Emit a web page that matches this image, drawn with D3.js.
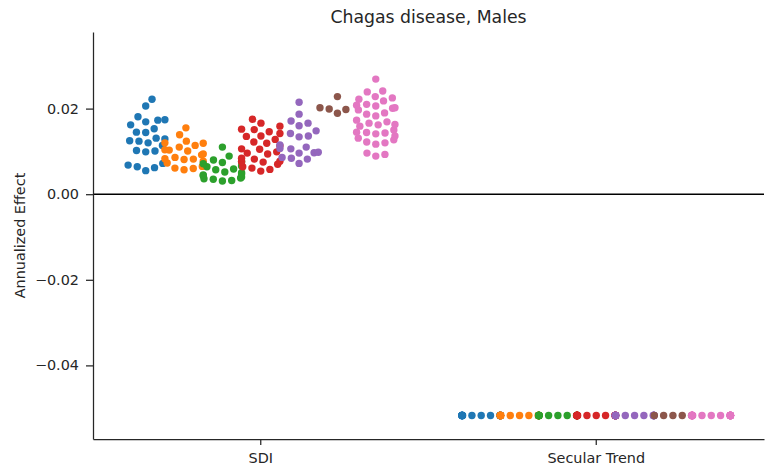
<!DOCTYPE html>
<html>
<head>
<meta charset="utf-8">
<script src="https://cdn.jsdelivr.net/npm/d3@7"></script>
<style>
  body { margin: 0; background: #fff; }
  text { font-family: "DejaVu Sans", sans-serif; fill: #262626; }
</style>
</head>
<body>
<div id="chart"></div>
<script>
const width = 765;
const height = 475;

// categories on the x axis
const categories = ["SDI", "Secular Trend"];

// hue levels (one colour each, tab10 order)
const hues = ["g1", "g2", "g3", "g4", "g5", "g6", "g7"];
const hueColors = ["#1f77b4", "#ff7f0e", "#2ca02c", "#d62728", "#9467bd", "#8c564b", "#e377c2"];

// SDI effects, one array per hue
const sdiBlue = [0.0222, 0.0206, 0.0181, 0.0174, 0.0173, 0.0169, 0.0162, 0.0153, 0.0145, 0.0144,
  0.0131, 0.0129, 0.0125, 0.0124, 0.0120, 0.0114, 0.0102, 0.0101, 0.0099, 0.0072,
  0.0068, 0.0064, 0.0062, 0.0055];
const sdiOrange = [0.0155, 0.0139, 0.0124, 0.0120, 0.0119, 0.0114, 0.0110, 0.0104, 0.0103, 0.0101,
  0.0094, 0.0092, 0.0086, 0.0083, 0.0082, 0.0081, 0.0077, 0.0073, 0.0065, 0.0061,
  0.0060, 0.0057];
const sdiGreen = [0.0110, 0.0089, 0.0080, 0.0076, 0.0074, 0.0071, 0.0066, 0.0064, 0.0059, 0.0057,
  0.0052, 0.0050, 0.0047, 0.0045, 0.0043, 0.0040, 0.0038, 0.0036, 0.0035, 0.0032, 0.0031];
const sdiRed = [0.0175, 0.0166, 0.0159, 0.0152, 0.0151, 0.0146, 0.0142, 0.0136, 0.0135, 0.0128,
  0.0122, 0.0119, 0.0113, 0.0106, 0.0105, 0.0099, 0.0096, 0.0094, 0.0084, 0.0082,
  0.0076, 0.0075, 0.0077, 0.0070, 0.0064, 0.0061, 0.0058, 0.0054];
const sdiPurple = [0.0215, 0.0187, 0.0171, 0.0166, 0.0160, 0.0148, 0.0142, 0.0136, 0.0134, 0.0115,
  0.0110, 0.0107, 0.0106, 0.0098, 0.0097, 0.0096, 0.0086, 0.0084, 0.0082, 0.0072];
const sdiBrown = [0.0228, 0.0202, 0.0199, 0.0198, 0.0189];
const sdiPink = [0.0269, 0.0241, 0.0239, 0.0228, 0.0225, 0.0222, 0.0218, 0.0210, 0.0208, 0.0206,
  0.0202, 0.0201, 0.0197, 0.0190, 0.0187, 0.0183, 0.0173, 0.0169, 0.0166, 0.0163,
  0.0162, 0.0159, 0.0150, 0.0145, 0.0144, 0.0143, 0.0141, 0.0136, 0.0131, 0.0127,
  0.0122, 0.0120, 0.0117, 0.0096, 0.0093, 0.0089];
const sdiValues = [sdiBlue, sdiOrange, sdiGreen, sdiRed, sdiPurple, sdiBrown, sdiPink];

// secular trend: every location in a hue has the same effect
const secularValues = [-0.0517, -0.0517, -0.0517, -0.0517, -0.0517, -0.0517, -0.0517];

const yTicks = [-0.04, -0.02, 0.00, 0.02];

const margin = { top: 32, right: 1, bottom: 36, left: 93 };
const dotR = 3.7;
const swarmD = 9.3; // collision diameter used by the swarm layout

const svg = d3.select("#chart")
    .append("svg")
    .attr("width", width)
    .attr("height", height);

const x = d3.scaleBand()
    .domain(categories)
    .range([margin.left, width - margin.right]);

const hueBand = d3.scaleBand()
    .domain(hues)
    .range([-0.4 * x.bandwidth(), 0.4 * x.bandwidth()]);

const y = d3.scaleLinear()
    .domain([-0.0572, 0.0379])
    .range([height - margin.bottom, margin.top]);

// beeswarm: place points by value, nearest to centre without overlap, then clamp into the hue band
function swarm(vals, cx, half) {
    const pts = vals.map(v => ({ v: v, py: y(v) })).sort((a, b) => a.v - b.v);
    const placed = [];
    pts.forEach(p => {
        const near = placed.filter(q => Math.abs(q.py - p.py) < swarmD);
        const cands = [0];
        near.forEach(q => {
            const dx = Math.sqrt(swarmD * swarmD - (q.py - p.py) ** 2);
            cands.push(q.dx + dx, q.dx - dx);
        });
        cands.sort((a, b) => Math.abs(a) - Math.abs(b));
        const ok = cands.find(c => near.every(q =>
            (q.dx - c) ** 2 + (q.py - p.py) ** 2 >= swarmD * swarmD - 1e-6));
        p.dx = ok;
        placed.push(p);
    });
    pts.forEach(p => { p.px = cx + Math.max(-half, Math.min(half, p.dx)); });
    return pts;
}

const half = hueBand.bandwidth() / 2;
const dots = svg.append("g");

categories.forEach(cat => {
    hues.forEach((h, i) => {
        const vals = cat === "SDI"
            ? sdiValues[i]
            : sdiValues[i].map(() => secularValues[i]);
        const cx = x(cat) + x.bandwidth() / 2 + hueBand(h) + hueBand.bandwidth() / 2;
        dots.append("g")
            .selectAll("circle")
            .data(swarm(vals, cx, half))
            .join("circle")
            .attr("cx", d => d.px)
            .attr("cy", d => d.py)
            .attr("r", dotR)
            .attr("fill", hueColors[i]);
    });
});

// zero line
svg.append("line")
    .attr("x1", margin.left)
    .attr("x2", width - margin.right)
    .attr("y1", y(0))
    .attr("y2", y(0))
    .attr("stroke", "#000")
    .attr("stroke-width", 1.5);

// axes
const yAxis = svg.append("g")
    .attr("transform", `translate(${margin.left},0)`)
    .call(d3.axisLeft(y).tickValues(yTicks).tickFormat(d3.format(".2f")).tickSize(7).tickPadding(7).tickSizeOuter(0));

const xAxis = svg.append("g")
    .attr("transform", `translate(0,${height - margin.bottom})`)
    .call(d3.axisBottom(x).tickSize(6).tickPadding(8).tickSizeOuter(0));

[yAxis, xAxis].forEach(ax => {
    ax.select(".domain").attr("stroke", "#262626").attr("stroke-width", 1.25);
    ax.selectAll(".tick line").attr("stroke", "#262626").attr("stroke-width", 1.25);
    ax.selectAll(".tick text")
        .attr("font-family", "DejaVu Sans, sans-serif")
        .attr("font-size", 14.4)
        .attr("fill", "#262626");
});

// labels
svg.append("text")
    .attr("x", margin.left + (width - margin.right - margin.left) / 2)
    .attr("y", 23)
    .attr("text-anchor", "middle")
    .attr("font-size", 17.3)
    .text("Chagas disease, Males");

svg.append("text")
    .attr("transform", `translate(25,${(margin.top + height - margin.bottom) / 2}) rotate(-90)`)
    .attr("text-anchor", "middle")
    .attr("font-size", 14.4)
    .text("Annualized Effect");
</script>
</body>
</html>
